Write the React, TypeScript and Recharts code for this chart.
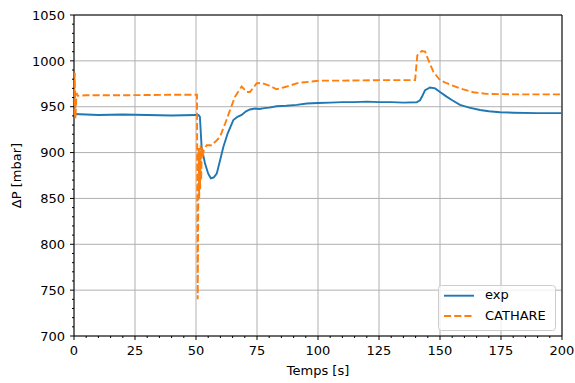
import React from "react";
import { CartesianGrid, Legend, Line, LineChart, ReferenceArea, XAxis, YAxis } from "recharts";

// measured pressure drop (exp)
const expTime = [
  0, 10, 20, 30, 40, 50, 51.0, 51.6, 52.3, 53.7, 55, 56.1, 57.3, 58.5, 60, 61.2, 63, 65.3, 67, 68.7,
  70.5, 72.1, 74.2, 76, 78, 80, 83, 87, 91.3, 95.4, 100, 105, 110, 115, 120, 125, 130, 135, 140.4,
  141.8, 142.8, 143.9, 145.9, 148, 150, 152.7, 155, 158.2, 162, 166.4, 170, 174.6, 180, 190, 200,
];
const expValue = [
  942, 941, 941.5, 941, 940.5, 941, 941, 939, 906, 888, 877, 872, 873, 877, 893, 906, 921, 935.5, 939, 941,
  945, 947, 948, 947.5, 948.5, 949, 950.5, 951, 952, 953.5, 954, 954.5, 955, 955, 955.5, 955, 955, 954.5, 954.8,
  957, 962, 968, 971, 970, 966, 961, 957, 952, 949, 946.4, 945, 944, 943.5, 943, 943,
];

// CATHARE simulation
const cathareTime = [
  0, 0.3, 0.6, 1.0, 1.5, 5, 20, 40, 50.4, 50.7, 50.9, 51.1, 51.3, 51.5, 51.7, 51.9, 52.1, 52.4, 52.7, 53.2,
  54.4, 56.4, 58, 59.8, 62, 63.9, 66, 68.7, 70.8, 72.1, 74.9, 76.9, 80, 83, 87.2, 92, 100.8, 110, 125.4,
  139.8, 140.7, 142.5, 143.9, 145.2, 147.3, 150, 152.7, 158.2, 163.6, 169.1, 180, 200,
];
const cathareValue = [
  940, 987, 937, 965, 962, 962.5, 962.5, 963, 963, 740, 830, 905, 850, 900, 860, 908, 870, 905, 895, 903,
  908, 908, 912, 917, 932, 946, 961, 972, 966, 966, 975.6, 976, 973, 969, 972, 976, 978.4, 978.5, 979,
  979, 1006, 1010.8, 1010, 1001, 988, 979, 975.6, 970, 965.8, 964, 963.5, 963.5,
];

const xMajor = [0, 25, 50, 75, 100, 125, 150, 175, 200];
const xTicks = [
  0, 5, 10, 15, 20, 25, 30, 35, 40, 45, 50, 55, 60, 65, 70, 75, 80, 85, 90, 95, 100,
  105, 110, 115, 120, 125, 130, 135, 140, 145, 150, 155, 160, 165, 170, 175, 180, 185, 190, 195, 200,
];
const yMajor = [700, 750, 800, 850, 900, 950, 1000, 1050];
const yTicks = [
  700, 710, 720, 730, 740, 750, 760, 770, 780, 790, 800, 810, 820, 830, 840, 850, 860, 870, 880, 890,
  900, 910, 920, 930, 940, 950, 960, 970, 980, 990, 1000, 1010, 1020, 1030, 1040, 1050,
];

const expData = expTime.map((t, i) => ({ t, v: expValue[i] }));
const cathareData = cathareTime.map((t, i) => ({ t, v: cathareValue[i] }));

const FONT = "DejaVu Sans, sans-serif";
const BLUE = "#1f77b4";
const ORANGE = "#ff7f0e";

const XTick = (props: any) => {
  const { x, y, payload } = props;
  const major = xMajor.includes(payload.value);
  return (
    <g>
      <line x1={x} x2={x} y1={y} y2={y + (major ? 4 : 2)} stroke="#000" strokeWidth={1} />
      {major && (
        <text x={x} y={y + 18.5} textAnchor="middle" fontSize={13} fontFamily={FONT} fill="#000">
          {payload.value}
        </text>
      )}
    </g>
  );
};

const YTick = (props: any) => {
  const { x, y, payload } = props;
  const major = yMajor.includes(payload.value);
  return (
    <g>
      <line x1={x - (major ? 4 : 2)} x2={x} y1={y} y2={y} stroke="#000" strokeWidth={1} />
      {major && (
        <text x={x - 9} y={y + 4.7} textAnchor="end" fontSize={13} fontFamily={FONT} fill="#000">
          {payload.value}
        </text>
      )}
    </g>
  );
};

const LegendBox = () => (
  <svg width={119} height={47} style={{ display: "block" }}>
    <rect x={0.5} y={0.5} width={117} height={45} rx={3} fill="#fff" fillOpacity={0.8} stroke="#cccccc" />
    <line x1={6} x2={36} y1={10.7} y2={10.7} stroke={BLUE} strokeWidth={1.9} />
    <line x1={6} x2={36} y1={31} y2={31} stroke={ORANGE} strokeWidth={1.9} strokeDasharray="7.1 3.1" />
    <text x={47} y={14} fontSize={13} fontFamily={FONT} fill="#000">exp</text>
    <text x={47} y={34.5} fontSize={13} fontFamily={FONT} fill="#000">CATHARE</text>
  </svg>
);

export default function App() {
  return (
    <div style={{ position: "absolute", left: 0, top: 0, background: "#fff" }}>
      <LineChart width={575} height={383} margin={{ top: 15, right: 13, left: 0, bottom: 0 }}>
        <CartesianGrid
          verticalValues={xMajor}
          horizontalValues={yMajor}
          stroke="#b0b0b0"
          strokeWidth={1}
        />
        <XAxis
          type="number"
          dataKey="t"
          domain={[0, 200]}
          ticks={xTicks}
          interval={0}
          allowDataOverflow
          height={47}
          tickSize={0}
          tickMargin={0}
          tickLine={false}
          axisLine={false}
          tick={<XTick />}
          label={{
            content: () => (
              <text x={318} y={374.5} textAnchor="middle" fontSize={13} fontFamily={FONT} fill="#000">
                Temps [s]
              </text>
            ),
          }}
        />
        <YAxis
          type="number"
          domain={[700, 1050]}
          ticks={yTicks}
          interval={0}
          allowDataOverflow
          width={74}
          tickSize={0}
          tickMargin={0}
          tickLine={false}
          axisLine={false}
          tick={<YTick />}
          label={{
            content: () => (
              <text
                x={20.5}
                y={175.5}
                transform="rotate(-90 20.5 175.5)"
                textAnchor="middle"
                fontSize={13}
                fontFamily={FONT}
                fill="#000"
              >
                ΔP [mbar]
              </text>
            ),
          }}
        />
        <Legend
          layout="vertical"
          align="center"
          verticalAlign="middle"
          content={() => <LegendBox />}
          wrapperStyle={{ left: 438, top: 285, width: 119, height: 47 }}
        />
        <Line
          data={expData}
          dataKey="v"
          name="exp"
          type="linear"
          stroke={BLUE}
          strokeWidth={1.9}
          dot={false}
          activeDot={false}
          isAnimationActive={false}
        />
        <Line
          data={cathareData}
          dataKey="v"
          name="CATHARE"
          type="linear"
          stroke={ORANGE}
          strokeWidth={1.9}
          strokeDasharray="7.1 3.1"
          dot={false}
          activeDot={false}
          isAnimationActive={false}
        />
        <ReferenceArea x1={0} x2={200} y1={700} y2={1050} fill="none" stroke="#000" strokeWidth={1} />
      </LineChart>
    </div>
  );
}
